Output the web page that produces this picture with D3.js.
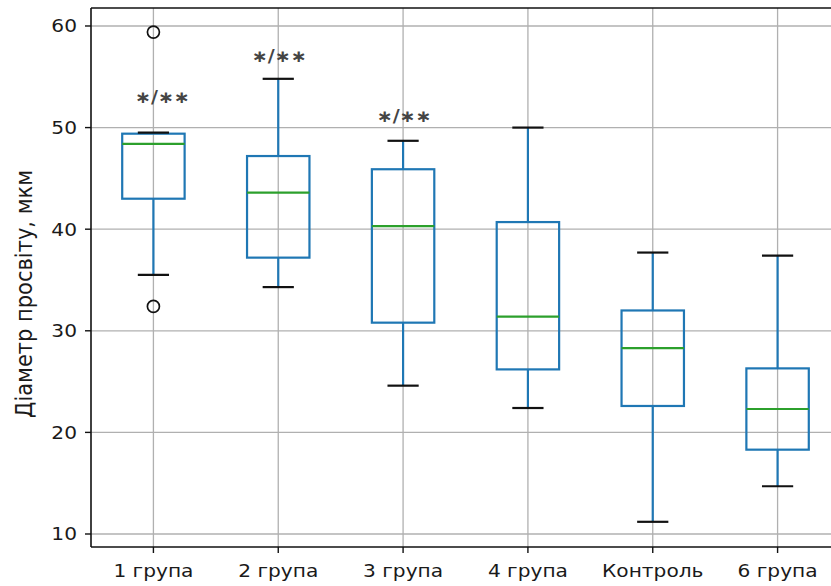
<!DOCTYPE html>
<html>
<head>
<meta charset="utf-8">
<script src="https://cdn.jsdelivr.net/npm/d3@7"></script>
<style>
  body { margin: 0; background: #fff; }
  svg { display: block; font-family: "DejaVu Sans", sans-serif; }
</style>
</head>
<body>
<svg id="chart" width="831" height="586"></svg>
<script>
// box statistics
var groups = ["1 група", "2 група", "3 група", "4 група", "Контроль", "6 група"];
var whiskerLow = [35.5, 34.3, 24.6, 22.4, 11.2, 14.7];
var q1 = [43.0, 37.2, 30.8, 26.2, 22.6, 18.3];
var median = [48.4, 43.6, 40.3, 31.4, 28.3, 22.3];
var q3 = [49.4, 47.2, 45.9, 40.7, 32.0, 26.3];
var whiskerHigh = [49.5, 54.8, 48.7, 50.0, 37.7, 37.4];
var outliers = [[59.4, 32.4], [], [], [], [], []];
var yTicks = [10, 20, 30, 40, 50, 60];
var marks = ["\u2217/\u2217\u2217", "\u2217/\u2217\u2217", "\u2217/\u2217\u2217"];
var markY = [53.0, 57.0, 51.1];

var boxes = groups.map(function (g, i) {
  return {
    name: g,
    lo: whiskerLow[i],
    q1: q1[i],
    med: median[i],
    q3: q3[i],
    hi: whiskerHigh[i],
    out: outliers[i],
  };
});

var svg = d3.select("#chart");
var stretch = 1.12; // the picture is a bit wider than tall

var x = d3.scaleBand().domain(groups).range([91, 840]).padding(0);
var y = d3.scaleLinear().domain([8.72, 61.77]).range([547, 8]);
var bw = x.bandwidth();
var cx = function (d) {
  return x(d) + bw / 2;
};

// grid
svg.append("g")
  .selectAll("line")
  .data(yTicks)
  .enter()
  .append("line")
  .attr("x1", 91)
  .attr("x2", 840)
  .attr("y1", (d) => y(d))
  .attr("y2", (d) => y(d))
  .attr("stroke", "#b0b0b0")
  .attr("stroke-width", 1.3);

svg.append("g")
  .selectAll("line")
  .data(groups)
  .enter()
  .append("line")
  .attr("x1", cx)
  .attr("x2", cx)
  .attr("y1", 8)
  .attr("y2", 547)
  .attr("stroke", "#b0b0b0")
  .attr("stroke-width", 1.3);

// boxes
var box = svg.append("g")
  .selectAll(".box")
  .data(boxes)
  .enter()
  .append("g")
  .attr("class", "box");

box.append("line")
  .attr("x1", (d) => cx(d.name))
  .attr("x2", (d) => cx(d.name))
  .attr("y1", (d) => y(d.q3))
  .attr("y2", (d) => y(d.hi))
  .attr("stroke", "#1f77b4")
  .attr("stroke-width", 2.2);

box.append("line")
  .attr("x1", (d) => cx(d.name))
  .attr("x2", (d) => cx(d.name))
  .attr("y1", (d) => y(d.q1))
  .attr("y2", (d) => y(d.lo))
  .attr("stroke", "#1f77b4")
  .attr("stroke-width", 2.2);

box.append("rect")
  .attr("x", (d) => cx(d.name) - bw / 4)
  .attr("width", bw / 2)
  .attr("y", (d) => y(d.q3))
  .attr("height", (d) => y(d.q1) - y(d.q3))
  .attr("fill", "none")
  .attr("stroke", "#1f77b4")
  .attr("stroke-width", 2.2);

box.append("line")
  .attr("x1", (d) => cx(d.name) - bw / 4)
  .attr("x2", (d) => cx(d.name) + bw / 4)
  .attr("y1", (d) => y(d.med))
  .attr("y2", (d) => y(d.med))
  .attr("stroke", "#2ca02c")
  .attr("stroke-width", 2.2);

["lo", "hi"].forEach(function (k) {
  box.append("line")
    .attr("x1", (d) => cx(d.name) - bw / 8)
    .attr("x2", (d) => cx(d.name) + bw / 8)
    .attr("y1", (d) => y(d[k]))
    .attr("y2", (d) => y(d[k]))
    .attr("stroke", "#111")
    .attr("stroke-width", 2.2);
});

box.selectAll("circle")
  .data((d) => d.out.map((v) => ({ name: d.name, v: v })))
  .enter()
  .append("circle")
  .attr("cx", (d) => cx(d.name))
  .attr("cy", (d) => y(d.v))
  .attr("r", 6)
  .attr("fill", "none")
  .attr("stroke", "#111")
  .attr("stroke-width", 1.7);

// significance marks
svg.append("g")
  .selectAll("text")
  .data(marks)
  .enter()
  .append("text")
  .attr("transform", function (d, i) {
    return "translate(" + (cx(groups[i]) + (i == 0 ? 9 : 1)) + "," + y(markY[i]) + ") scale(" + stretch + ",1)";
  })
  .attr("dy", "0.35em")
  .attr("text-anchor", "middle")
  .style("font-size", "17px")
  .style("font-weight", "bold")
  .style("fill", "#444")
  .text((d) => d);

// spines
svg.append("line").attr("x1", 91).attr("x2", 840).attr("y1", 8).attr("y2", 8)
  .attr("stroke", "#111").attr("stroke-width", 1.6);
svg.append("line").attr("x1", 91).attr("x2", 840).attr("y1", 547).attr("y2", 547)
  .attr("stroke", "#111").attr("stroke-width", 1.6);
svg.append("line").attr("x1", 91).attr("x2", 91).attr("y1", 8).attr("y2", 547)
  .attr("stroke", "#111").attr("stroke-width", 1.6);

// y axis
var yt = svg.append("g")
  .selectAll("g")
  .data(yTicks)
  .enter()
  .append("g");
yt.append("line")
  .attr("x1", 85).attr("x2", 91)
  .attr("y1", (d) => y(d)).attr("y2", (d) => y(d))
  .attr("stroke", "#111").attr("stroke-width", 1.4);
yt.append("text")
  .attr("transform", (d) => "translate(77," + y(d) + ") scale(" + stretch + ",1)")
  .attr("dy", "0.36em")
  .attr("text-anchor", "end")
  .style("font-size", "18px")
  .style("fill", "#1a1a1a")
  .text((d) => d);

// x axis
var xt = svg.append("g")
  .selectAll("g")
  .data(groups)
  .enter()
  .append("g");
xt.append("line")
  .attr("x1", cx).attr("x2", cx)
  .attr("y1", 547).attr("y2", 553)
  .attr("stroke", "#111").attr("stroke-width", 1.4);
xt.append("text")
  .attr("transform", (d) => "translate(" + cx(d) + ",577) scale(" + stretch + ",1)")
  .attr("text-anchor", "middle")
  .style("font-size", "18px")
  .style("fill", "#1a1a1a")
  .text((d) => d);

svg.append("text")
  .attr("transform", "translate(32,294) scale(" + stretch + ",1) rotate(-90)")
  .attr("text-anchor", "middle")
  .style("font-size", "21px")
  .style("fill", "#1a1a1a")
  .text("Діаметр просвіту, мкм");
</script>
</body>
</html>
